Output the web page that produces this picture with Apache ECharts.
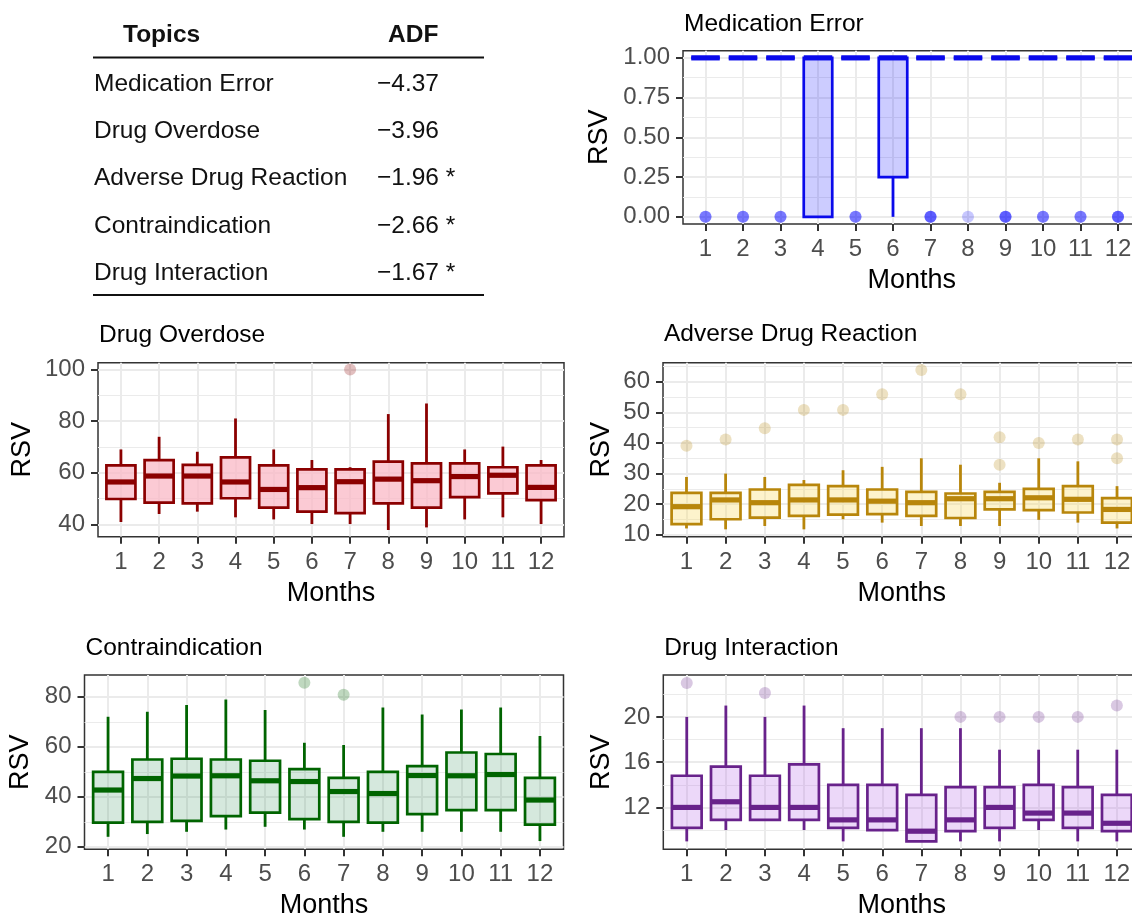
<!DOCTYPE html>
<html><head><meta charset="utf-8">
<script src="https://cdn.jsdelivr.net/npm/echarts@6/dist/echarts.min.js"></script>
<style>html,body{margin:0;padding:0;background:#fff}#c{width:1132px;height:915px}</style>
</head><body><div id="c"></div>
<script>
// ---------- data ----------
const months = [1,2,3,4,5,6,7,8,9,10,11,12];

// ADF table
const topics = ['Medication Error','Drug Overdose','Adverse Drug Reaction','Contraindication','Drug Interaction'];
const adfValues = ['\u22124.37','\u22123.96','\u22121.96','\u22122.66','\u22121.67'];
const adfStars = ['','','*','*','*'];

// Medication Error
const medLow    = [1,1,1,0,1,0,1,1,1,1,1,1];
const medQ1     = [1,1,1,0,1,0.25,1,1,1,1,1,1];
const medMedian = [1,1,1,1,1,1,1,1,1,1,1,1];
const medQ3     = [1,1,1,1,1,1,1,1,1,1,1,1];
const medHigh   = [1,1,1,1,1,1,1,1,1,1,1,1];
const medOutliers = [[1,0],[1,0],[1,0],[2,0],[2,0],[2,0],[3,0],[3,0],[3,0],[5,0],[5,0],[5,0],
  [7,0],[7,0],[7,0],[7,0],[8,0],[9,0],[9,0],[9,0],[9,0],[10,0],[10,0],[10,0],[11,0],[11,0],[11,0],
  [12,0],[12,0],[12,0],[12,0]];
const medTicks = [0,0.25,0.5,0.75,1];
const medMinor = [0.125,0.375,0.625,0.875];

// Drug Overdose
const odLow    = [40.9,44.0,44.9,42.7,41.9,40.1,40.1,37.8,38.8,41.9,42.7,40.1];
const odQ1     = [49.8,48.4,48.1,50.1,46.5,44.9,44.3,48.1,46.5,50.5,52.0,49.4];
const odMedian = [56.4,58.7,58.7,56.4,53.5,54.2,56.5,57.5,56.9,58.5,59.0,54.3];
const odQ3     = [62.8,64.9,63.0,65.9,62.8,61.3,61.3,64.3,63.6,63.6,62.1,62.8];
const odHigh   = [69.0,73.9,68.1,81.0,69.0,64.9,62.1,82.7,86.8,69.0,70.1,64.9];
const odOutliers = [[7,100]];
const odTicks = [40,60,80,100];
const odMinor = [50,70,90];

// Adverse Drug Reaction
const adrLow    = [12.1,11.8,12.9,11.8,15.1,14.0,12.9,12.9,12.9,14.9,14.0,12.1];
const adrQ1     = [13.5,15.1,15.6,16.2,16.6,16.8,16.2,15.5,18.3,18.1,17.3,14.0];
const adrMedian = [19.2,21.4,20.5,21.4,21.4,21.0,20.5,21.8,21.8,22.1,21.6,18.3];
const adrQ3     = [23.7,23.7,24.8,26.3,25.9,24.8,24.0,23.5,24.0,25.0,25.9,22.0];
const adrHigh   = [28.9,30.0,28.9,27.9,31.1,32.2,35.0,32.9,27.0,35.0,34.0,25.9];
const adrOutliers = [[1,39.1],[2,41.1],[3,44.8],[4,50.8],[5,50.8],[6,55.9],[7,63.8],[8,55.9],
  [9,41.9],[9,32.9],[10,40.0],[11,41.1],[12,41.1],[12,35.0]];
const adrTicks = [10,20,30,40,50,60];
const adrMinor = [15,25,35,45,55,65];

// Contraindication
const ciLow    = [24.0,25.1,26.0,26.9,28.0,26.9,24.0,26.0,26.0,26.0,26.0,22.3];
const ciQ1     = [29.7,30.0,30.4,32.3,33.7,31.1,30.0,29.7,33.1,34.7,34.7,28.9];
const ciMedian = [42.7,47.3,48.3,48.4,46.4,46.1,42.1,41.3,48.5,48.4,48.9,38.7];
const ciQ3     = [50.0,54.9,55.2,54.9,54.4,51.1,47.6,50.0,52.3,57.7,57.1,47.6];
const ciHigh   = [72.0,74.0,76.7,78.9,74.7,61.6,60.7,75.7,72.9,74.9,75.7,64.3];
const ciOutliers = [[6,85.6],[7,80.8]];
const ciTicks = [20,40,60,80];
const ciMinor = [30,50,70];

// Drug Interaction
const diLow    = [9.0,10.0,10.9,10.0,9.0,10.0,9.0,9.0,9.0,10.0,9.0,9.0];
const diQ1     = [10.2,10.9,10.9,10.9,10.2,10.0,9.0,9.9,10.2,10.9,10.2,9.9];
const diMedian = [12.0,12.5,12.0,12.0,10.9,10.9,9.9,10.9,12.0,11.5,11.5,10.6];
const diQ3     = [14.8,15.6,14.8,15.8,14.0,14.0,13.1,13.8,13.8,14.0,13.8,13.1];
const diHigh   = [20.0,21.0,20.0,21.0,19.0,19.0,19.0,19.0,17.1,17.1,17.1,17.1];
const diOutliers = [[1,23.0],[3,22.1],[8,20],[9,20],[10,20],[11,20],[12,21.0]];
const diTicks = [12,16,20];
const diMinor = [10,14,18,22];

// ---------- layout / style ----------
const FONT = 'Liberation Sans, Arial, Helvetica, sans-serif';
const panels = [
  {title:'Medication Error', low:medLow, q1:medQ1, med:medMedian, q3:medQ3, high:medHigh, out:medOutliers,
   ticks:medTicks, minor:medMinor, range:[-0.045,1.045], fmt:v=>v.toFixed(2),
   stroke:'#0a0aeb', fill:'rgba(0,0,255,0.2)', point:'#0000ff', pointOpacity:0.22,
   grid:{left:683, top:50.7, width:457.5, height:173.3}, nameGap:70, titleY:22.7},
  {title:'Drug Overdose', low:odLow, q1:odQ1, med:odMedian, q3:odQ3, high:odHigh, out:odOutliers,
   ticks:odTicks, minor:odMinor, range:[35.2,102.6], fmt:v=>String(v),
   stroke:'#8b0000', fill:'rgba(250,182,196,0.72)', point:'#8b0000', pointOpacity:0.25,
   grid:{left:98, top:362.7, width:466, height:174}, nameGap:62, titleY:334},
  {title:'Adverse Drug Reaction', low:adrLow, q1:adrQ1, med:adrMedian, q3:adrQ3, high:adrHigh, out:adrOutliers,
   ticks:adrTicks, minor:adrMinor, range:[9.4,66.2], fmt:v=>String(v),
   stroke:'#b8860b', fill:'rgba(250,220,110,0.35)', point:'#b8860b', pointOpacity:0.25,
   grid:{left:663, top:362.7, width:477.5, height:174}, nameGap:48, titleY:333},
  {title:'Contraindication', low:ciLow, q1:ciQ1, med:ciMedian, q3:ciQ3, high:ciHigh, out:ciOutliers,
   ticks:ciTicks, minor:ciMinor, range:[19.0,88.7], fmt:v=>String(v),
   stroke:'#006400', fill:'rgba(46,139,87,0.2)', point:'#006400', pointOpacity:0.25,
   grid:{left:84.5, top:675, width:479, height:174.3}, nameGap:50, titleY:646.7},
  {title:'Drug Interaction', low:diLow, q1:diQ1, med:diMedian, q3:diQ3, high:diHigh, out:diOutliers,
   ticks:diTicks, minor:diMinor, range:[8.3,23.7], fmt:v=>String(v),
   stroke:'#68228b', fill:'rgba(180,100,230,0.25)', point:'#68228b', pointOpacity:0.25,
   grid:{left:663.3, top:675, width:477, height:174.3}, nameGap:48, titleY:646.7}
];
const BOX_W = 0.76;

function boxRenderer(stroke, fill) {
  return function (params, api) {
    const x = api.value(0);
    const lo = api.value(1), q1 = api.value(2), md = api.value(3), q3 = api.value(4), hi = api.value(5);
    const pLo = api.coord([x, lo]), pQ1 = api.coord([x, q1]), pMd = api.coord([x, md]);
    const pQ3 = api.coord([x, q3]), pHi = api.coord([x, hi]);
    const w = api.size([BOX_W, 0])[0];
    const cx = pMd[0];
    const ch = [];
    if (hi > q3) ch.push({type:'line', shape:{x1:cx, y1:pQ3[1], x2:cx, y2:pHi[1]}, style:{stroke, lineWidth:2.8}});
    if (lo < q1) ch.push({type:'line', shape:{x1:cx, y1:pQ1[1], x2:cx, y2:pLo[1]}, style:{stroke, lineWidth:2.8}});
    ch.push({type:'rect', shape:{x:cx - w/2, y:pQ3[1], width:w, height:pQ1[1] - pQ3[1]}, style:{fill, stroke, lineWidth:2.7}});
    ch.push({type:'line', shape:{x1:cx - w/2, y1:pMd[1], x2:cx + w/2, y2:pMd[1]}, style:{stroke, lineWidth:5.2}});
    return {type:'group', children:ch};
  };
}

const option = {animation:false, title:[], grid:[], xAxis:[], yAxis:[], series:[], graphic:[]};

panels.forEach((p, i) => {
  option.grid.push(Object.assign({show:true, borderColor:'#333', borderWidth:1.5, backgroundColor:'#fff',
    containLabel:false, outerBoundsMode:'none'}, p.grid));
  option.title.push({text:p.title, left:p.grid.left + 1, top:p.titleY - 11, padding:0,
    textStyle:{fontFamily:FONT, fontSize:24.5, fontWeight:'normal', color:'#000'}});
  option.xAxis.push({type:'value', gridIndex:i, min:0.4, max:12.6,
    axisLine:{show:false, onZero:false},
    axisTick:{show:true, customValues:months, length:7, lineStyle:{color:'#333', width:2}},
    axisLabel:{customValues:months, margin:13.5, fontSize:24, color:'#4d4d4d', fontFamily:FONT},
    splitLine:{show:true, lineStyle:{color:'#ebebeb', width:2}},
    name:'Months', nameLocation:'middle', nameGap:43,
    nameTextStyle:{fontSize:27, color:'#000', fontFamily:FONT}});
  option.yAxis.push({type:'value', gridIndex:i, min:p.range[0], max:p.range[1],
    axisLine:{show:false, onZero:false},
    axisTick:{show:true, customValues:p.ticks, length:7, lineStyle:{color:'#333', width:2}},
    axisLabel:{customValues:p.ticks, formatter:p.fmt, margin:13, fontSize:24, color:'#4d4d4d', fontFamily:FONT},
    splitLine:{show:true, lineStyle:{color:'#ebebeb', width:2}},
    name:'RSV', nameLocation:'middle', nameGap:p.nameGap, nameRotate:90,
    nameTextStyle:{fontSize:27, color:'#000', fontFamily:FONT}});
  option.yAxis.push({type:'value', gridIndex:i, min:p.range[0], max:p.range[1], position:'left',
    axisLine:{show:false, onZero:false},
    axisTick:{show:false, customValues:p.minor},
    axisLabel:{show:false, customValues:p.minor},
    splitLine:{show:true, lineStyle:{color:'#ebebeb', width:1}}});
  const rows = months.map((m, k) => [m, p.low[k], p.q1[k], p.med[k], p.q3[k], p.high[k]]);
  option.series.push({type:'custom', xAxisIndex:i, yAxisIndex:2*i, silent:true,
    renderItem:boxRenderer(p.stroke, p.fill), encode:{x:0, y:[1,2,3,4,5]}, data:rows, z:3});
  option.series.push({type:'scatter', xAxisIndex:i, yAxisIndex:2*i, silent:true, symbolSize:12,
    itemStyle:{color:p.point, opacity:p.pointOpacity}, data:p.out, z:2});
});

// ADF table
const tFont = {fontFamily:FONT, fontSize:24.5, fill:'#111'};
option.graphic.push({type:'text', x:123, y:35, style:Object.assign({}, tFont, {text:'Topics', fontWeight:'bold', textVerticalAlign:'middle', verticalAlign:'middle'})});
option.graphic.push({type:'text', x:388, y:35, style:Object.assign({}, tFont, {text:'ADF', fontWeight:'bold', textVerticalAlign:'middle', verticalAlign:'middle'})});
option.graphic.push({type:'line', shape:{x1:93, y1:57.5, x2:484, y2:57.5}, style:{stroke:'#111', lineWidth:2}});
option.graphic.push({type:'line', shape:{x1:93, y1:295, x2:484, y2:295}, style:{stroke:'#111', lineWidth:2}});
topics.forEach((t, k) => {
  const y = 84 + k * 47.3;
  option.graphic.push({type:'text', x:94, y, style:Object.assign({}, tFont, {text:t, textVerticalAlign:'middle', verticalAlign:'middle'})});
  option.graphic.push({type:'text', x:377, y, style:Object.assign({}, tFont, {text:adfValues[k] + (adfStars[k] ? ' ' + adfStars[k] : ''), textVerticalAlign:'middle', verticalAlign:'middle'})});
});

const chart = echarts.init(document.getElementById('c'), null, {renderer:'canvas'});
chart.setOption(option);
</script></body></html>
